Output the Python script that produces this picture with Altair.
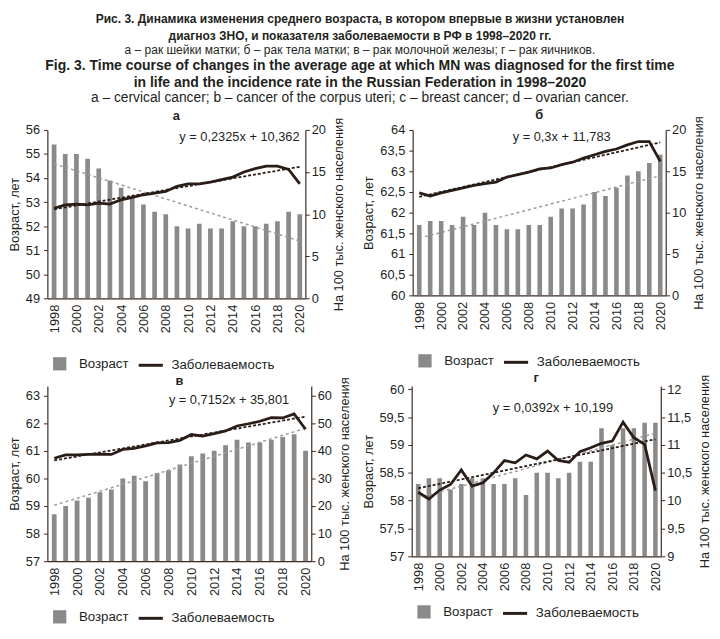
import altair as alt
import pandas as pd

years = list(range(1998, 2021))
label_years = list(range(1998, 2021, 2))

# а – cervical cancer
age_a = [55.4, 55.0, 55.0, 54.8, 54.4, 53.9, 53.6, 53.2, 52.9, 52.6, 52.5, 52.0,
         51.9, 52.1, 51.9, 51.9, 52.2, 52.0, 52.0, 52.1, 52.2, 52.6, 52.5]
inc_a = [10.7, 11.1, 11.2, 11.1, 11.3, 11.2, 11.7, 12.0, 12.3, 12.5, 12.7, 13.3,
         13.6, 13.6, 13.8, 14.1, 14.4, 15.0, 15.4, 15.7, 15.7, 15.3, 13.6]
# б – corpus uteri
age_b = [61.7, 61.8, 61.8, 61.7, 61.9, 61.7, 62.0, 61.7, 61.6, 61.6, 61.7, 61.7,
         61.9, 62.1, 62.1, 62.2, 62.5, 62.4, 62.6, 62.9, 63.0, 63.2, 63.4]
inc_b = [12.4, 12.0, 12.4, 12.7, 13.0, 13.3, 13.5, 13.7, 14.3, 14.6, 14.9, 15.3,
         15.4, 15.8, 16.1, 16.6, 17.0, 17.4, 17.7, 18.2, 18.6, 18.6, 16.2]
# в – breast
age_c = [58.7, 59.0, 59.2, 59.3, 59.5, 59.6, 60.0, 60.1, 59.9, 60.2, 60.3, 60.5,
         60.8, 60.9, 61.0, 61.2, 61.4, 61.3, 61.3, 61.4, 61.5, 61.6, 61.0]
inc_c = [37.3, 38.5, 38.5, 38.7, 38.8, 38.7, 40.5, 40.9, 41.8, 42.9, 43.0, 43.8,
         45.9, 45.3, 46.2, 47.2, 49.0, 49.8, 50.7, 52.0, 51.9, 53.4, 47.8]
# г – ovarian
age_d = [58.3, 58.4, 58.4, 58.2, 58.3, 58.4, 58.4, 58.3, 58.3, 58.4, 58.1, 58.5,
         58.5, 58.4, 58.5, 58.7, 58.7, 59.3, 59.0, 59.3, 59.3, 59.4, 59.4]
inc_d = [10.15, 10.03, 10.19, 10.29, 10.55, 10.26, 10.32, 10.50, 10.72, 10.68, 10.82, 10.75,
         10.89, 10.72, 10.69, 10.88, 10.95, 11.03, 11.07, 11.41, 11.13, 11.01, 10.18]

panel_titles = ["а", "б", "в", "г"]
equations = ["y = 0,2325x + 10,362", "y = 0,3x + 11,783",
             "y = 0,7152x + 35,801", "y = 0,0392x + 10,199"]

age_ticks_a = [49, 50, 51, 52, 53, 54, 55, 56]
inc_ticks_a = [0, 5, 10, 15, 20]
age_ticks_b = [60, 60.5, 61, 61.5, 62, 62.5, 63, 63.5, 64]
inc_ticks_b = [0, 5, 10, 15, 20]
age_ticks_c = [57, 58, 59, 60, 61, 62, 63]
inc_ticks_c = [0, 10, 20, 30, 40, 50, 60]
age_ticks_d = [57, 57.5, 58, 58.5, 59, 59.5, 60]
inc_ticks_d = [9, 9.5, 10, 10.5, 11, 11.5, 12]

legend_bar = "Возраст"
legend_line = "Заболеваемость"
left_title = "Возраст, лет"
right_title = "На 100 тыс. женского населения"

BAR = "#8a8a8a"
LINE = "#2a1c16"
AXIS = "#3a2a22"
TEXT = "#231f1c"
TREND_GRAY = "#9c9c9c"
FONT = "Liberation Sans"

X_DOMAIN = [1997.4, 2020.5]
HALF = 0.21
COMMA = "replace(format(datum.value, '~g'), '.', ',')"
SQUARE = "M-0.55,-0.55H0.55V0.55H-0.55Z"


def panel(age, inc, title, eq, age_dom, age_ticks, inc_dom, inc_ticks,
          eq_x, eq_y, width, height, title_offset, legend_offset):
    df = pd.DataFrame({"year": years, "age": age, "inc": inc})
    base = alt.Chart(df)
    xs = alt.Scale(domain=X_DOMAIN, nice=False, zero=False)
    xax = alt.Axis(values=label_years, labelAngle=270, ticks=False, title=None,
                   format="d", labelFontSize=13, labelPadding=6, grid=False,
                   labelOverlap=False, labelFlush=False, labelBound=False)
    age_scale = alt.Scale(domain=age_dom, nice=False, zero=False)
    inc_scale = alt.Scale(domain=inc_dom, nice=False, zero=False)
    age_axis = alt.Axis(orient="left", values=age_ticks, title=left_title,
                        labelExpr=COMMA, titlePadding=4, labelPadding=4)
    inc_axis = alt.Axis(orient="right", values=inc_ticks, title=right_title,
                        labelExpr=COMMA, titleAngle=270, titleBaseline="top",
                        titlePadding=7, labelPadding=2)

    bars = base.transform_calculate(
        x0=f"datum.year - {HALF}", x1=f"datum.year + {HALF}", s=f"'{legend_bar}'"
    ).mark_bar(clip=True).encode(
        x=alt.X("x0:Q", scale=xs, axis=xax),
        x2="x1:Q",
        y=alt.Y("age:Q", scale=age_scale, axis=age_axis),
        y2=alt.datum(age_dom[0]),
        fill=alt.Fill("s:N", scale=alt.Scale(domain=[legend_bar], range=[BAR]),
                      legend=alt.Legend(title=None, orient="bottom", symbolType=SQUARE,
                                        symbolSize=600, symbolStrokeWidth=0,
                                        offset=legend_offset)),
    )
    age_trend = base.transform_regression(on="year", regression="age").mark_line(
        color=TREND_GRAY, strokeDash=[3, 3], strokeWidth=1.5
    ).encode(
        x=alt.X("year:Q", scale=xs, axis=xax),
        y=alt.Y("age:Q", scale=age_scale, axis=age_axis),
    )
    line = base.transform_calculate(s2=f"'{legend_line}'").mark_line(strokeWidth=2.8).encode(
        x=alt.X("year:Q", scale=xs, axis=xax),
        y=alt.Y("inc:Q", scale=inc_scale, axis=inc_axis),
        stroke=alt.Stroke("s2:N", scale=alt.Scale(domain=[legend_line], range=[LINE]),
                          legend=alt.Legend(title=None, orient="bottom", symbolType="stroke",
                                            symbolSize=600, symbolStrokeWidth=3,
                                            offset=legend_offset)),
    )
    inc_trend = base.transform_regression(on="year", regression="inc").mark_line(
        color=LINE, strokeDash=[3, 2], strokeWidth=1.8
    ).encode(
        x=alt.X("year:Q", scale=xs, axis=xax),
        y=alt.Y("inc:Q", scale=inc_scale, axis=inc_axis),
    )
    text = base.transform_filter("datum.year == 1998").mark_text(
        text=eq, font=FONT, fontSize=13, color=TEXT, align="center", baseline="middle"
    ).encode(
        x=alt.XDatum(eq_x, type="quantitative", scale=xs, axis=xax),
        y=alt.YDatum(eq_y, type="quantitative", scale=inc_scale, axis=inc_axis),
    )
    left = alt.layer(bars, age_trend)
    right = alt.layer(line, inc_trend, text)
    return alt.layer(left, right).resolve_scale(y="independent").properties(
        width=width, height=height,
        title=alt.TitleParams(title, font=FONT, fontSize=13, fontWeight="bold",
                              color=TEXT, anchor="middle", offset=title_offset),
    )


pa = panel(age_a, inc_a, panel_titles[0], equations[0], [49, 56], age_ticks_a,
           [0, 20], inc_ticks_a, 2014.6, 19.1, 262, 171, -6, 19)
pb = panel(age_b, inc_b, panel_titles[1], equations[1], [60, 64], age_ticks_b,
           [0, 20], inc_ticks_b, 2011, 19.1, 257, 168, -6, 19)
pc = panel(age_c, inc_c, panel_titles[2], equations[2], [57, 63.35], age_ticks_c,
           [0, 63.5], inc_ticks_c, 2013.3, 58.4, 268, 178, -11, 9)
pd_ = panel(age_d, inc_d, panel_titles[3], equations[3], [57, 60.06], age_ticks_d,
            [9, 12.06], inc_ticks_d, 2010.5, 11.66, 253, 173, -11, 9)

row1 = alt.hconcat(pa, pb, spacing=17).resolve_scale(fill="independent", stroke="independent")
row2 = alt.hconcat(pc, pd_, spacing=10).resolve_scale(fill="independent", stroke="independent")

inner = alt.vconcat(row1, row2, spacing=0).resolve_scale(
    fill="independent", stroke="independent"
).properties(
    title=alt.TitleParams(
        ["Fig. 3. Time course of changes in the average age at which MN was diagnosed for the first time",
         "in life and the incidence rate in the Russian Federation in 1998–2020"],
        subtitle=["a – cervical cancer; b – cancer of the corpus uteri; c – breast cancer; d – ovarian cancer."],
        font=FONT, fontSize=14.2, fontWeight="bold", color=TEXT, lineHeight=17,
        subtitleFont=FONT, subtitleFontSize=14, subtitleColor=TEXT,
        subtitleLineHeight=17, subtitlePadding=1, anchor="middle", offset=4,
    )
)

chart = alt.vconcat(inner, spacing=0).resolve_scale(
    fill="independent", stroke="independent"
).properties(
    title=alt.TitleParams(
        ["Рис. 3. Динамика изменения среднего возраста, в котором впервые в жизни установлен",
         "диагноз ЗНО, и показателя заболеваемости в РФ в 1998–2020 гг."],
        subtitle=["а – рак шейки матки; б –  рак тела матки; в – рак молочной железы; г – рак яичников."],
        font=FONT, fontSize=12.2, fontWeight="bold", color=TEXT, lineHeight=17.5,
        subtitleFont=FONT, subtitleFontSize=12.2, subtitleColor=TEXT,
        subtitleLineHeight=17, subtitlePadding=2, anchor="middle", offset=3,
    ),
    padding={"left": 0, "top": 0, "right": 0, "bottom": 0},
).configure_axis(
    labelFont=FONT, titleFont=FONT, labelFontSize=13, titleFontSize=13,
    titleFontWeight="normal", labelColor=TEXT, titleColor=TEXT,
    domainColor=AXIS, tickColor=AXIS, domainWidth=1.2, tickSize=4, grid=False,
    labelPadding=2,
).configure_legend(
    labelFont=FONT, labelFontSize=13.5, labelColor=TEXT, direction="horizontal",
    columnPadding=14, labelOffset=7,
).configure_view(stroke=None).configure_concat(spacing=10)

chart.save("out.html", embed_options={"renderer": "svg", "actions": False})
